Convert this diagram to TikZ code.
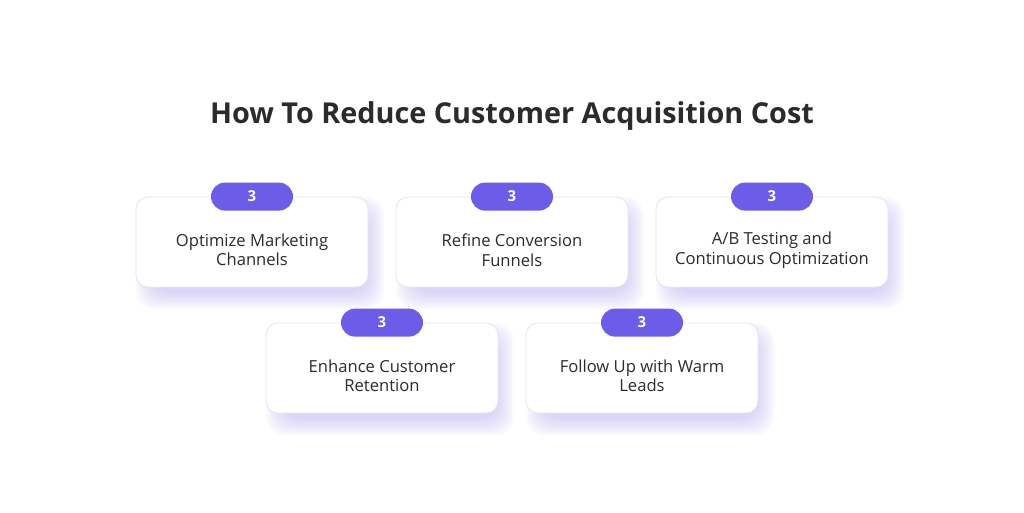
\documentclass[tikz,border=0pt]{standalone}
\usepackage{fontspec}
\setmainfont{Open Sans}
\definecolor{badge}{HTML}{6C5CE7}
\definecolor{cardline}{HTML}{E6E4F0}
\definecolor{txt}{HTML}{2B2B2B}
\definecolor{shade}{HTML}{B3A8F5}
\begin{document}
\begin{tikzpicture}[x=1pt,y=-1pt,
  card/.style={draw=cardline,line width=0.8pt,fill=white,rounded corners=12pt,minimum width=232pt,minimum height=90pt,inner sep=0pt,align=center,font=\fontsize{16.6}{20}\selectfont,text=txt},
  badgebox/.style={fill=badge,rounded corners=14pt,minimum width=82pt,minimum height=28pt,inner sep=0pt,text=white,font=\bfseries\fontsize{15}{18}\selectfont},
  shadowbox/.style={fill=shade,rounded corners=18pt,opacity=0.06}]
\useasboundingbox[fill=white] (0,0) rectangle (1024,512);
\node[font=\bfseries\fontsize{28.8}{34}\selectfont,text=txt] (title) at (512,116) {How To Reduce Customer Acquisition Cost};
\foreach \n/\cx/\cy/\t in {c1/252/242/{Optimize Marketing\\Channels},c2/512/242/{Refine Conversion\\Funnels},c3/772/242/{A/B Testing and\\Continuous Optimization},c4/382/368/{Enhance Customer\\Retention},c5/642/368/{Follow Up with Warm\\Leads}}{
  \foreach \s in {0,2,...,16}{
    \fill[shadowbox] (\cx-116-\s+16,\cy-45-\s+16) rectangle (\cx+116+\s,\cy+45+\s+6);
  }
  \node[card] (\n) at (\cx,\cy) {};
  \node[align=center,font=\fontsize{16.6}{19.5}\selectfont,text=txt,inner sep=0pt] (\n t) at (\cx,\cy+8) {\t};
  \node[badgebox] (\n b) at (\n.north) {3};
}
\end{tikzpicture}
\end{document}
